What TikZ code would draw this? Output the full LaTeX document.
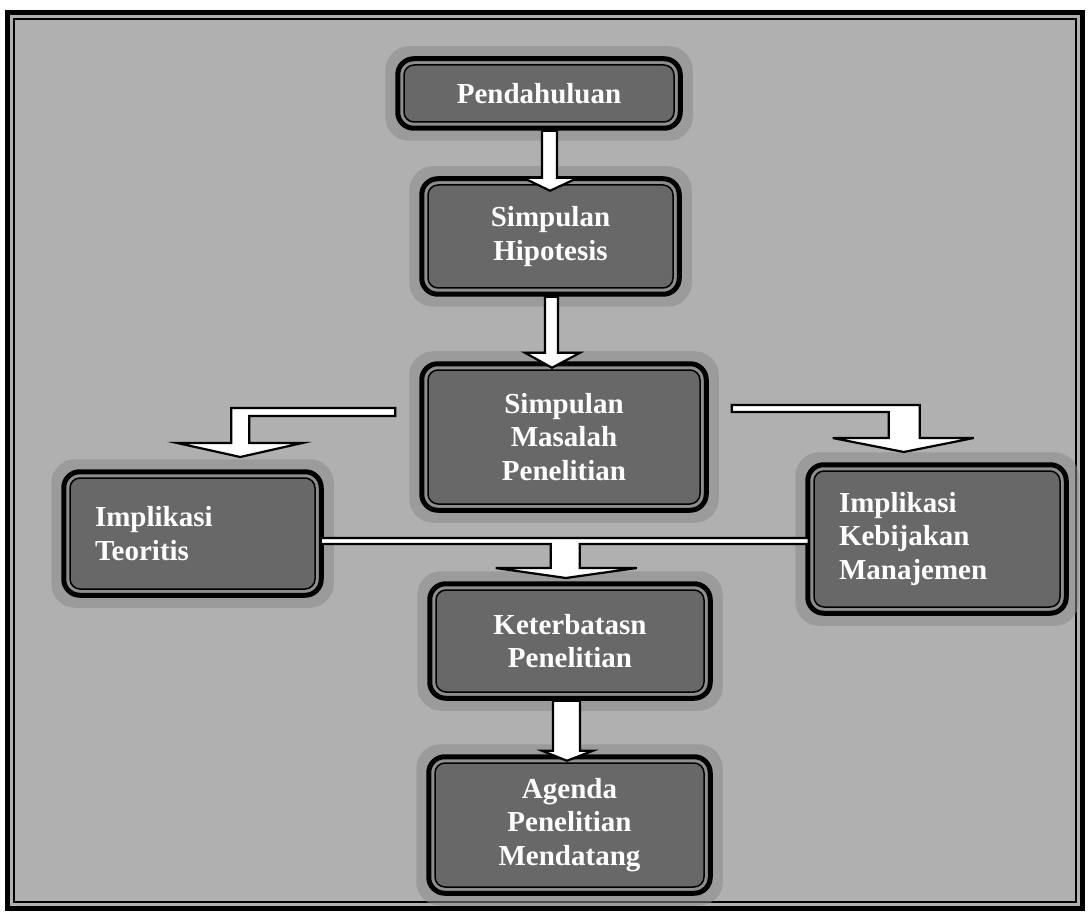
\documentclass[tikz,border=0pt]{standalone}
\usepackage{fontspec}
\setmainfont{Liberation Serif}
\usetikzlibrary{calc,backgrounds}
\definecolor{pagegray}{HTML}{B0B0B0}
\definecolor{boxgray}{HTML}{686868}
\definecolor{rimgray}{HTML}{8E8E8E}
\definecolor{halogray}{HTML}{8A8A8A}

\begin{document}
\begin{tikzpicture}[x=1pt,y=-1pt,
  box/.style={draw=black, line width=1.5pt, fill=boxgray, rounded corners=10pt,
    inner sep=0pt, text=white, align=center,
    font=\fontsize{29}{33.5}\selectfont\bfseries},
  rim/.style={draw=black, line width=5pt, fill=rimgray, rounded corners=16pt},
  halo/.style={fill=halogray, rounded corners=24pt, opacity=0.55},
  blockarrow/.style={draw=black, line width=2.2pt, fill=white, line join=miter}]

\useasboundingbox (0,0) rectangle (1088,920);

% chapter boxes
\node[box, minimum width=270, minimum height=57] (P)  at (539,93.5)   {Pendahuluan};
\node[box, minimum width=245, minimum height=103] (SH) at (550.5,236.5) {Simpulan\\Hipotesis};
\node[box, minimum width=272, minimum height=134] (SM) at (564,437)    {Simpulan\\Masalah\\Penelitian};
\node[box, minimum width=245, minimum height=111, text width=195, align=left] (IT) at (192.5,533.5) {Implikasi\\Teoritis};
\node[box, minimum width=246, minimum height=136, text width=196, align=left] (IK) at (937,539) {Implikasi\\Kebijakan\\Manajemen};
\node[box, minimum width=268, minimum height=102] (KP) at (570,641)    {Keterbatasn\\Penelitian};
\node[box, minimum width=269, minimum height=124] (AP) at (569.5,825)  {Agenda\\Penelitian\\Mendatang};

% page, frame, halos and outer rims behind the boxes
\begin{scope}[on background layer]
  \fill[white] (0,0) rectangle (1088,920);
  \draw[line width=5pt, fill=pagegray] (7.5,12.5) rectangle (1082.5,908.5);
  \draw[line width=1.2pt] (14,19) rectangle (1076,902);
  \foreach \n in {P,SH,SM,IT,IK,KP,AP}
    \fill[halo] ($(\n.north west)+(-18,-18)$) rectangle ($(\n.south east)+(18,18)$);
  \foreach \n in {P,SH,SM,IT,IK,KP,AP}
    \draw[rim] ($(\n.north west)+(-5.5,-5.5)$) rectangle ($(\n.south east)+(5.5,5.5)$);
\end{scope}

% straight block arrows
\draw[blockarrow] ($(P.south)+(3,8)$) -- ++(15,0) -- ++(0,47) -- ++(21,0)
  -- ++(-28,13) -- ++(-27,-13) -- ++(19,0) -- cycle;
\draw[blockarrow] ($(SH.south)+(-5.5,8)$) -- ++(13,0) -- ++(0,56) -- ++(22,0)
  -- ++(-28,15) -- ++(-27,-15) -- ++(20,0) -- cycle;
\draw[blockarrow] ($(KP.south)+(-17,8)$) -- ++(27,0) -- ++(0,50) -- ++(13,0)
  -- ++(-26,10) -- ++(-25,-10) -- ++(11,0) -- cycle;

% bent arrows from the conclusions to the implications
\draw[blockarrow] ($(SM.west)+(-32,-29)$) -- ++(0,8) -- ++(-146,0) -- ++(0,27)
  -- ++(53,0) -- ++(-62,14) -- ++(-63,-14) -- ++(54,0) -- ++(0,-35) -- cycle;
\draw[blockarrow] ($(SM.east)+(31,-32)$) -- ++(188,0) -- ++(0,33) -- ++(54,0)
  -- ++(-70,14) -- ++(-71,-14) -- ++(56,0) -- ++(0,-26) -- ++(-157,0) -- cycle;

% joint arrow from both implications down to the limitations
\draw[blockarrow] ($(IT.east)+(5,4.5)$) -- ++(488,0) -- ++(0,6) -- ++(-229,0)
  -- ++(0,24) -- ++(57,0) -- ++(-71,10) -- ++(-70,-10) -- ++(55,0)
  -- ++(0,-24) -- ++(-230,0) -- cycle;
\end{tikzpicture}
\end{document}
